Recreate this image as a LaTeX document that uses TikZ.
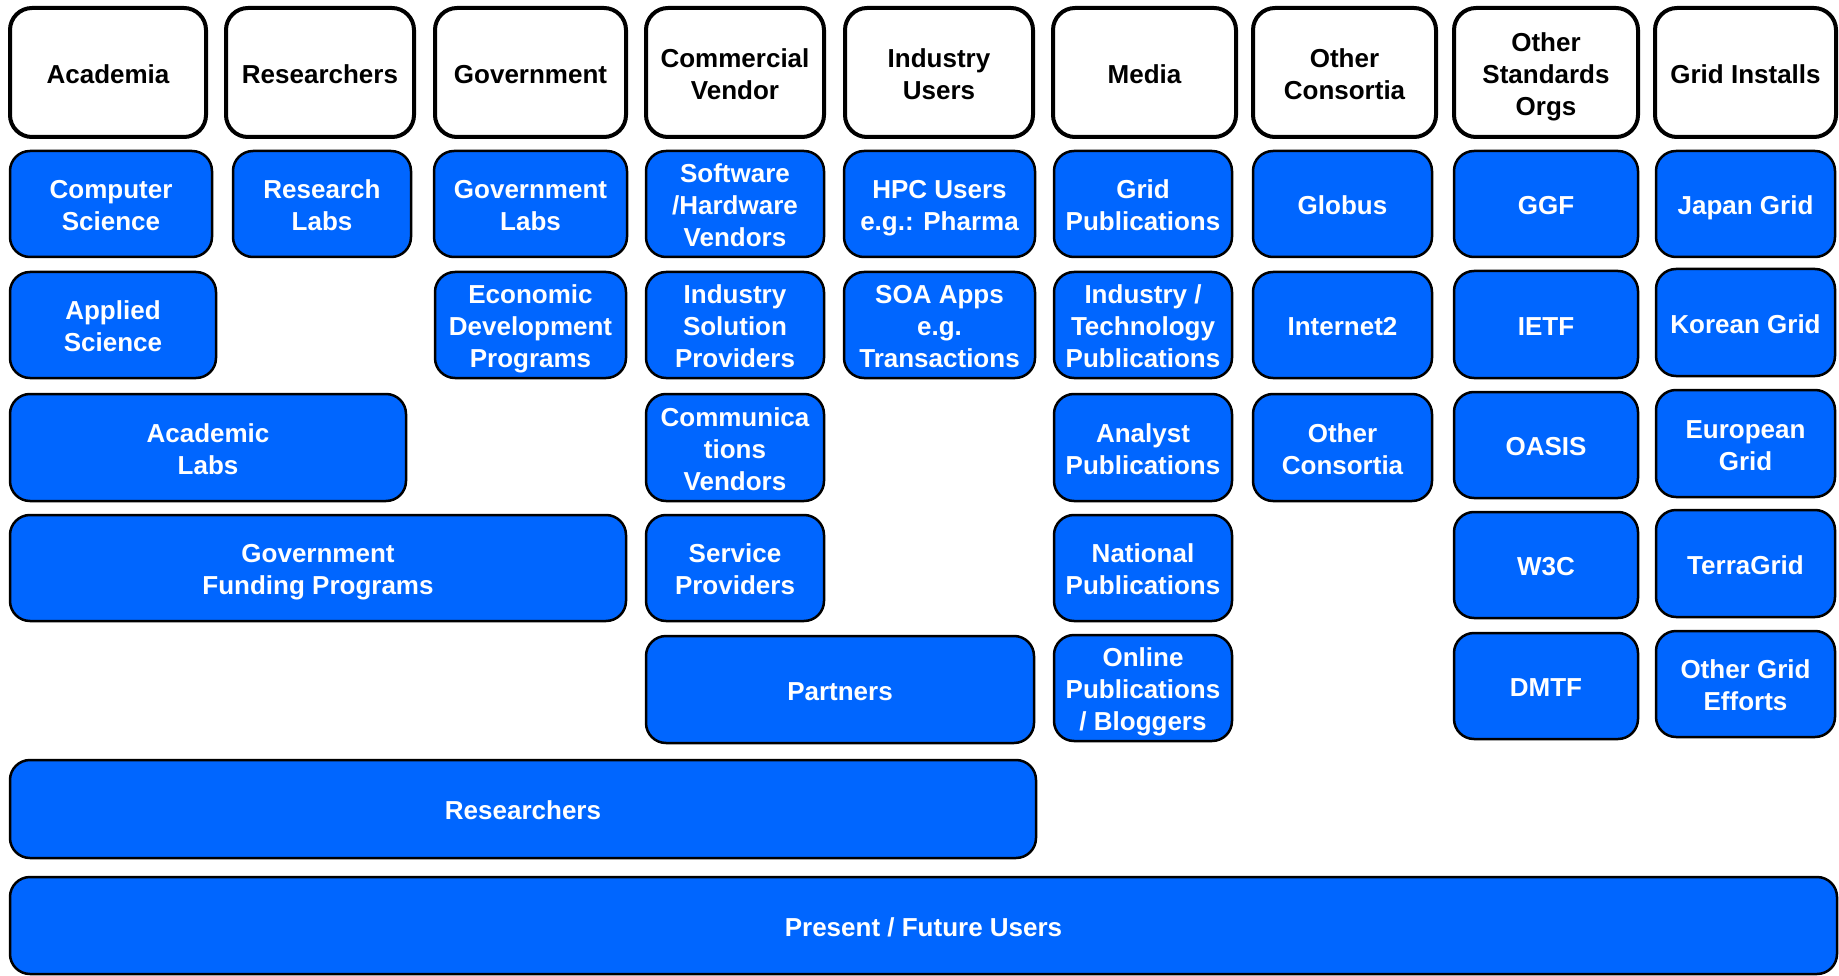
\documentclass[tikz,border=0pt]{standalone}
\usepackage{fontspec}
\setmainfont{Liberation Sans}
\definecolor{pblue}{RGB}{0,102,255}
\tikzset{
  boxtext/.style={inner sep=0pt, align=center, font=\fontsize{26}{32}\selectfont\bfseries,
    text depth=0.8pt},
  hdr/.style={boxtext, draw=black, fill=white, line width=4pt, rounded corners=22pt, text=black},
  blu/.style={boxtext, draw=black, fill=pblue, line width=2.5pt, rounded corners=20pt, text=white}
}
\newcommand\bx[7]{%
  \pgfmathsetmacro\bxw{#5-#3}\pgfmathsetmacro\bxh{#6-#4}%
  \pgfmathsetmacro\bxx{(#3+#5)/2}\pgfmathsetmacro\bxy{(#4+#6)/2}%
  \node[#1, minimum width=\bxw pt, minimum height=\bxh pt] (#2) at (\bxx,\bxy) {\strut #7};}
\begin{document}
\begin{tikzpicture}[x=1pt,y=-1pt]
\useasboundingbox (0,0) rectangle (1839,976);
% headers
\bx{hdr}{hA}{10}{8}{206}{137}{Academia}
\bx{hdr}{hR}{226}{8}{414}{137}{Researchers}
\bx{hdr}{hG}{435}{8}{626}{137}{Government}
\bx{hdr}{hC}{646}{8}{824}{137}{Commercial\\Vendor}
\bx{hdr}{hI}{845}{8}{1033}{137}{Industry\\Users}
\bx{hdr}{hM}{1053}{8}{1236}{137}{Media}
\bx{hdr}{hO}{1253}{8}{1436}{137}{Other\\Consortia}
\bx{hdr}{hS}{1454}{8}{1638}{137}{Other\\Standards\\Orgs}
\bx{hdr}{hX}{1655}{8}{1836}{137}{Grid Installs}
% row 1
\bx{blu}{cs}{10}{151}{212}{257}{Computer\\Science}
\bx{blu}{rl}{233}{151}{411}{257}{Research\\Labs}
\bx{blu}{gl}{434}{151}{627}{257}{Government\\Labs}
\bx{blu}{sw}{646}{151}{824}{257}{Software\\/Hardware\\Vendors}
\bx{blu}{hpc}{844}{151}{1035}{257}{HPC Users\\e.g.: Pharma}
\bx{blu}{gp}{1054}{151}{1232}{257}{Grid\\Publications}
\bx{blu}{glo}{1253}{151}{1432}{257}{Globus}
\bx{blu}{ggf}{1454}{151}{1638}{257}{GGF}
\bx{blu}{jg}{1656}{151}{1835}{257}{Japan Grid}
% row 2
\bx{blu}{as}{10}{272}{216}{378}{Applied\\Science}
\bx{blu}{ed}{435}{272}{626}{378}{Economic\\Development\\Programs}
\bx{blu}{isp}{646}{272}{824}{378}{Industry\\Solution\\Providers}
\bx{blu}{soa}{844}{272}{1035}{378}{SOA Apps\\e.g.\\Transactions}
\bx{blu}{itp}{1054}{272}{1232}{378}{Industry /\\Technology\\Publications}
\bx{blu}{i2}{1253}{272}{1432}{378}{Internet2}
\bx{blu}{ietf}{1454}{271}{1638}{378}{IETF}
\bx{blu}{kg}{1656}{269}{1835}{376}{Korean Grid}
% row 3
\bx{blu}{al}{10}{394}{406}{501}{Academic\\Labs}
\bx{blu}{cv}{646}{394}{824}{501}{Communica\\tions\\Vendors}
\bx{blu}{ap}{1054}{394}{1232}{501}{Analyst\\Publications}
\bx{blu}{oc}{1253}{394}{1432}{501}{Other\\Consortia}
\bx{blu}{oasis}{1454}{392}{1638}{498}{OASIS}
\bx{blu}{eg}{1656}{390}{1835}{497}{European\\Grid}
% row 4
\bx{blu}{gfp}{10}{515}{626}{621}{Government\\Funding Programs}
\bx{blu}{sp}{646}{515}{824}{621}{Service\\Providers}
\bx{blu}{np}{1054}{515}{1232}{621}{National\\Publications}
\bx{blu}{w3c}{1454}{512}{1638}{618}{W3C}
\bx{blu}{tg}{1656}{510}{1835}{617}{TerraGrid}
% row 5
\bx{blu}{pt}{646}{636}{1034}{743}{Partners}
\bx{blu}{op}{1054}{635}{1232}{741}{Online\\Publications\\/ Bloggers}
\bx{blu}{dmtf}{1454}{633}{1638}{739}{DMTF}
\bx{blu}{oge}{1656}{631}{1835}{737}{Other Grid\\Efforts}
% bars
\bx{blu}{res}{10}{760}{1036}{858}{Researchers}
\bx{blu}{pfu}{10}{877}{1837}{974}{Present / Future Users}
\end{tikzpicture}
\end{document}
